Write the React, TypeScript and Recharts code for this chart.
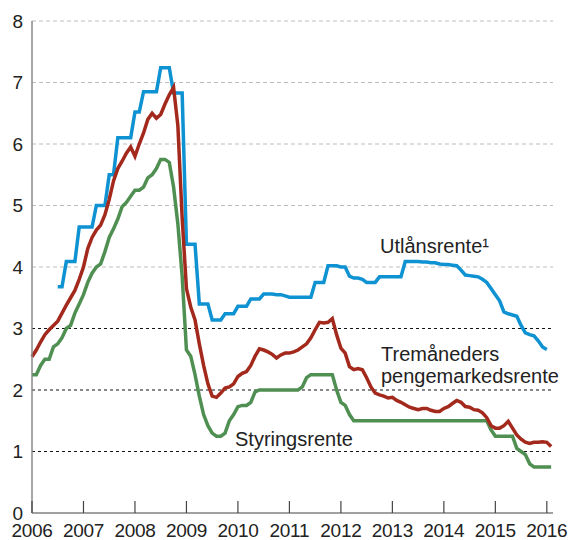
import { LineChart, Line, XAxis, YAxis, ReferenceLine } from 'recharts';

const FONT = '"Liberation Sans", Arial, Helvetica, sans-serif';

const startYear = 2006;
const yearTicks = [2006, 2007, 2008, 2009, 2010, 2011, 2012, 2013, 2014, 2015, 2016];
const valueTicks = [0, 1, 2, 3, 4, 5, 6, 7, 8];
const blackGrid = [1, 2, 3];
const greyGrid = [4, 5, 6, 7, 8];

// monthly, Jan 2006 .. Feb 2016
const styringsrente = [
  2.25, 2.25, 2.4, 2.5, 2.5, 2.7, 2.75, 2.85, 3.0, 3.05,
  3.25, 3.4, 3.55, 3.75, 3.9, 4.0, 4.05, 4.25, 4.48, 4.62,
  4.78, 4.98, 5.05, 5.15, 5.25, 5.25, 5.3, 5.45, 5.5, 5.6,
  5.75, 5.75, 5.7, 5.3, 4.7, 3.85, 2.65, 2.55, 2.25, 1.9,
  1.6, 1.42, 1.3, 1.25, 1.25, 1.3, 1.5, 1.6, 1.73, 1.75,
  1.75, 1.8, 1.97, 2.0, 2.0, 2.0, 2.0, 2.0, 2.0, 2.0,
  2.0, 2.0, 2.0, 2.05, 2.2, 2.25, 2.25, 2.25, 2.25, 2.25,
  2.25, 2.0, 1.8, 1.75, 1.6, 1.5, 1.5, 1.5, 1.5, 1.5,
  1.5, 1.5, 1.5, 1.5, 1.5, 1.5, 1.5, 1.5, 1.5, 1.5,
  1.5, 1.5, 1.5, 1.5, 1.5, 1.5, 1.5, 1.5, 1.5, 1.5,
  1.5, 1.5, 1.5, 1.5, 1.5, 1.5, 1.5, 1.35, 1.25, 1.25,
  1.25, 1.25, 1.25, 1.05, 1.0, 0.95, 0.8, 0.75, 0.75, 0.75,
  0.75, 0.75,
];

const tremaaneders = [
  2.54, 2.65, 2.78, 2.9, 2.98, 3.05, 3.12, 3.25, 3.38, 3.5,
  3.62, 3.8, 4.0, 4.3, 4.48, 4.6, 4.68, 4.85, 5.1, 5.4,
  5.6, 5.72, 5.85, 5.95, 5.8, 6.0, 6.18, 6.4, 6.5, 6.42,
  6.48, 6.65, 6.8, 6.92, 6.3, 4.8, 3.65, 3.35, 3.14, 2.75,
  2.4, 2.1, 1.9, 1.88, 1.95, 2.03, 2.05, 2.1, 2.22, 2.27,
  2.3, 2.4, 2.55, 2.67, 2.65, 2.62, 2.58, 2.52, 2.57, 2.6,
  2.6, 2.62, 2.65, 2.7, 2.75, 2.85, 2.98, 3.1, 3.09, 3.1,
  3.16, 2.9, 2.68, 2.6, 2.38, 2.33, 2.35, 2.33, 2.2, 2.05,
  1.95, 1.92, 1.9, 1.87, 1.88, 1.83, 1.8, 1.76, 1.72, 1.7,
  1.68, 1.7, 1.7, 1.67, 1.65, 1.65, 1.7, 1.73, 1.78, 1.83,
  1.8, 1.73, 1.72, 1.68, 1.67, 1.63, 1.55, 1.42, 1.38, 1.38,
  1.42, 1.49, 1.38, 1.27, 1.2, 1.15, 1.13, 1.15, 1.15, 1.16,
  1.15, 1.08,
];

const utlaansrente = [
  null, null, null, null, null, null, 3.68, 3.68, 4.09, 4.09,
  4.09, 4.65, 4.65, 4.65, 4.65, 5.0, 5.0, 5.0, 5.5, 5.5,
  6.1, 6.1, 6.1, 6.1, 6.52, 6.52, 6.85, 6.85, 6.85, 6.85,
  7.24, 7.24, 7.24, 6.83, 6.83, 6.83, 4.37, 4.37, 4.37, 3.4,
  3.4, 3.4, 3.14, 3.14, 3.14, 3.24, 3.24, 3.24, 3.36, 3.36,
  3.36, 3.48, 3.48, 3.48, 3.56, 3.56, 3.56, 3.55, 3.55, 3.53,
  3.51, 3.51, 3.51, 3.51, 3.51, 3.51, 3.75, 3.75, 3.75, 4.02,
  4.02, 4.02, 4.0, 4.0, 3.85, 3.82, 3.82, 3.8, 3.75, 3.75,
  3.75, 3.84, 3.84, 3.84, 3.84, 3.84, 3.84, 4.09, 4.09, 4.09,
  4.09, 4.08, 4.08, 4.07, 4.07, 4.05, 4.04, 4.04, 4.03, 4.02,
  3.95, 3.87, 3.86, 3.85, 3.84, 3.8, 3.75, 3.65, 3.55, 3.45,
  3.27, 3.24, 3.22, 3.2, 3.05, 2.93, 2.9, 2.88, 2.8, 2.7,
  2.66, null,
];

const data = styringsrente.map((v, i) => ({
  t: startYear + i / 12,
  styring: v,
  tre: tremaaneders[i],
  utlaan: utlaansrente[i],
}));

function YearTick({ x, y, payload }: { x: number; y: number; payload: { value: number } }) {
  return (
    <g>
      <line x1={x} x2={x} y1={y - 11} y2={y - 23} stroke="#444" strokeWidth={1.2} />
      <text x={x} y={y} dy="0.71em" textAnchor="middle" fontSize={19} fill="#222"
        fontFamily={FONT} letterSpacing={-0.3}>
        {payload.value}
      </text>
    </g>
  );
}

export default function App() {
  return (
    <div style={{ position: 'absolute', left: 0, top: 0, width: 571, height: 540, background: '#fff' }}>
      <LineChart width={571} height={540} data={data} margin={{ top: 21, right: 18, bottom: 0, left: 0 }}>
        {greyGrid.map((v) => (
          <ReferenceLine key={v} y={v} stroke="#bdbdbd" strokeDasharray="4 3" />
        ))}
        {blackGrid.map((v) => (
          <ReferenceLine key={v} y={v} stroke="#111" strokeDasharray="3 3" />
        ))}
        <XAxis
          dataKey="t"
          type="number"
          domain={[2006, 2016.12]}
          ticks={yearTicks}
          interval={0}
          height={27}
          tickSize={0}
          tickMargin={11}
          tickLine={false}
          axisLine={{ stroke: '#444', strokeWidth: 1.2 }}
          tick={(p: any) => <YearTick {...p} />}
        />
        <YAxis
          type="number"
          domain={[0, 8]}
          ticks={valueTicks}
          width={32}
          tickSize={0}
          tickMargin={9}
          tickLine={false}
          axisLine={{ stroke: '#888', strokeWidth: 1.5 }}
          tick={{ fontSize: 19, fill: '#222', fontFamily: FONT }}
        />
        <Line dataKey="utlaan" stroke="#0f92d2" strokeWidth={3.5} dot={false} isAnimationActive={false} connectNulls={false} />
        <Line dataKey="styring" stroke="#4f8f52" strokeWidth={3.5} dot={false} isAnimationActive={false} />
        <Line dataKey="tre" stroke="#a3291d" strokeWidth={3.5} dot={false} isAnimationActive={false} />
      </LineChart>
      <svg width={571} height={540} style={{ position: 'absolute', left: 0, top: 0, pointerEvents: 'none' }}>
        <g fontFamily={FONT} fontSize={20} fill="#222">
          <text x={380} y={253}>Utlånsrente¹</text>
          <text x={381} y={361}>Tremåneders</text>
          <text x={381} y={383}>pengemarkedsrente</text>
          <text x={235} y={446}>Styringsrente</text>
        </g>
      </svg>
    </div>
  );
}
